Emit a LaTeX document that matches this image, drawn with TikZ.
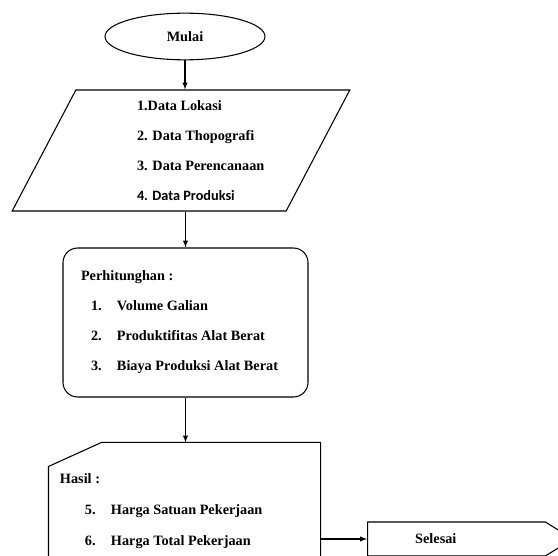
\documentclass[tikz,border=0pt]{standalone}
\usepackage{fontspec}
\setmainfont{Liberation Serif}
\newfontfamily\calibri{Carlito}
\usetikzlibrary{shapes.geometric,shapes.symbols}

\begin{document}
\begin{tikzpicture}[x=0.75pt,y=-0.75pt,font=\fontsize{10.7}{22.5}\selectfont\bfseries,line width=0.8pt]
			\tikzstyle{terminal} = [draw, ellipse, minimum width=120pt, minimum height=35pt, inner sep=0pt]
			\tikzstyle{input} = [draw, trapezium, trapezium left angle=61.4, trapezium right angle=118.6, trapezium stretches=true, minimum width=253.5pt, minimum height=90.75pt, inner sep=0pt]
			\tikzstyle{process} = [draw, rectangle, rounded corners=11pt, minimum width=183.75pt, minimum height=111.75pt, inner sep=0pt]
			\tikzstyle{output} = [rectangle, minimum width=203.25pt, minimum height=102pt, inner sep=0pt]
			\tikzstyle{finish} = [draw, signal, signal to=east, signal pointer angle=64, minimum width=153.75pt, minimum height=25.5pt, inner sep=0pt]

			\useasboundingbox (0,0) rectangle (558,556);
			\clip (0,0) rectangle (558,556);

			\node[terminal] (mulai) at (185,36.5) {Mulai};
			\node[input] (data) at (181,150.5) {\begin{minipage}{135pt}
				\leftskip=34.5pt
				1.Data Lokasi \\
				2. Data Thopografi \\
				3. Data Perencanaan \\
				{\calibri 4. Data Produksi}
			\end{minipage}};
			\node[process] (hitung) at (185.5,322.5) {\begin{minipage}{156.75pt}
				Perhitunghan : \\
				\hspace*{7.5pt}\makebox[19.5pt][l]{1.}Volume Galian \\
				\hspace*{7.5pt}\makebox[19.5pt][l]{2.}Produktifitas Alat Berat \\
				\hspace*{7.5pt}\makebox[19.5pt][l]{3.}Biaya Produksi Alat Berat
			\end{minipage}};
			\node[output] (hasil) at (184.5,511) {\begin{minipage}{186.75pt}
				\baselineskip=23.25pt
				Hasil : \\
				\hspace*{18.75pt}\makebox[19.5pt][l]{5.}Harga Satuan Pekerjaan \\
				\hspace*{18.75pt}\makebox[19.5pt][l]{6.}Harga Total Pekerjaan
			\end{minipage}};
			% card outline with cut corner
			\draw (hasil.south west) -- ([yshift=-18pt]hasil.north west) -- ([xshift=39.75pt]hasil.north west) -- (hasil.north east) -- (hasil.south east);
			\node[finish] (selesai) at (456.5,539) {Selesai\hspace*{31pt}};

			\draw[-latex] (mulai.south) -- (mulai.south |- data.north);
			\draw[-latex] (hitung.north |- data.south) -- (hitung.north);
			\draw[-latex] (hitung.south) -- (hitung.south |- hasil.north);
			\draw[-latex] (hasil.east |- selesai.west) -- (selesai.west);
	\end{tikzpicture}
\end{document}
